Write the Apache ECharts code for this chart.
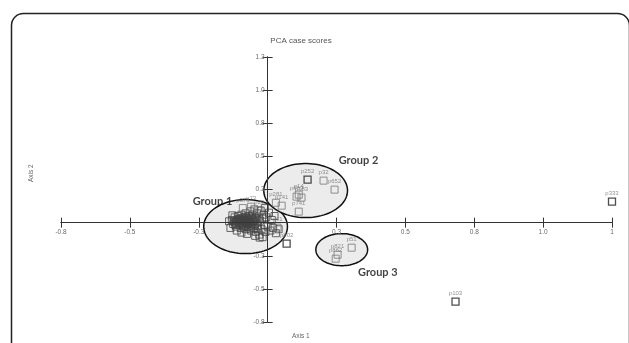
<!DOCTYPE html>
<html>
<head>
<meta charset="utf-8">
<script src="https://cdn.jsdelivr.net/npm/echarts@6/dist/echarts.min.js"></script>
<style>
  html, body { margin: 0; padding: 0; background: #fff; }
  #chart { width: 629px; height: 343px; }
</style>
</head>
<body>
<div id="chart"></div>
<script>
// tick labels as printed (zero is left blank where the axes cross)
const xTickLabels = ['-0.8', '-0.5', '-0.3', '', '0.3', '0.5', '0.8', '1.0', '1'];
const yTickLabels = ['-0.8', '-0.5', '-0.3', '', '0.3', '0.5', '0.8', '1.0', '1.3'];

// labelled cases
const caseNames = ['p252', 'p32', 'p652', 'p663', 'p183', 'p14', 'p741', 'p141', 'p281',
  'p51', 'p821', 'p862', 'p333', 'p103', 'p802', 'p61', 'p371', 'p73', 'p29'];
const axis1Scores = [0.145, 0.203, 0.243, 0.105, 0.123, 0.113, 0.113, 0.051, 0.03,
  0.305, 0.254, 0.247, 1.25, 0.682, 0.069, 0.036, -0.09, -0.06, -0.03];
const axis2Scores = [0.325, 0.317, 0.249, 0.196, 0.189, 0.211, 0.083, 0.128, 0.15,
  -0.189, -0.242, -0.272, 0.158, -0.596, -0.158, -0.038, 0.11, 0.12, 0.095];
const darkCases = ['p252', 'p333', 'p103', 'p802'];

// unlabelled cases in the Group 1 cloud
const clusterScores = [
  [-0.13, 0.02], [-0.125, -0.01], [-0.12, 0.04], [-0.118, 0.0], [-0.115, -0.03],
  [-0.11, 0.02], [-0.108, 0.05], [-0.105, -0.015], [-0.1, 0.03], [-0.1, 0.0],
  [-0.098, -0.04], [-0.095, 0.06], [-0.093, 0.015], [-0.09, -0.02], [-0.088, 0.04],
  [-0.085, 0.0], [-0.083, 0.025], [-0.08, -0.05], [-0.08, 0.07], [-0.078, -0.01],
  [-0.075, 0.035], [-0.072, 0.01], [-0.07, -0.03], [-0.068, 0.05], [-0.065, 0.0],
  [-0.063, 0.085], [-0.06, -0.06], [-0.06, 0.025], [-0.057, -0.015], [-0.055, 0.06],
  [-0.052, 0.01], [-0.05, -0.04], [-0.048, 0.1], [-0.045, 0.035], [-0.043, -0.07],
  [-0.04, 0.0], [-0.038, 0.07], [-0.035, -0.025], [-0.033, 0.045], [-0.03, -0.09],
  [-0.028, 0.015], [-0.025, 0.09], [-0.022, -0.05], [-0.02, 0.03], [-0.018, -0.11],
  [-0.015, 0.06], [-0.012, -0.02], [-0.01, 0.11], [-0.008, -0.07], [-0.005, 0.04],
  [0.0, -0.03], [0.005, 0.075], [0.01, -0.06], [0.015, 0.02], [0.02, -0.04],
  [0.025, 0.05], [-0.135, -0.04], [-0.14, 0.01], [-0.128, 0.055], [-0.112, -0.06],
  [-0.095, -0.075], [-0.075, -0.085], [-0.045, -0.1], [0.03, -0.08], [0.04, -0.05],
  [-0.029, -0.113],
  [-0.122, 0.012], [-0.117, -0.018], [-0.113, 0.008], [-0.107, 0.028], [-0.103, -0.005],
  [-0.097, 0.018], [-0.092, -0.008], [-0.087, 0.022], [-0.082, -0.025], [-0.077, 0.012],
  [-0.073, -0.012], [-0.069, 0.022], [-0.066, -0.045], [-0.062, 0.005], [-0.058, 0.04],
  [-0.054, -0.028], [-0.049, 0.018], [-0.046, -0.012], [-0.041, 0.028], [-0.037, -0.045],
  [-0.104, 0.012], [-0.091, 0.032], [-0.086, -0.035], [-0.079, 0.045], [-0.071, -0.005]
];

// group ellipses: centre x, centre y, radius x, radius y (axis units)
const groupNames = ['Group 1', 'Group 2', 'Group 3'];
const groupEllipses = [
  [-0.08, -0.03, 0.152, 0.204],
  [0.138, 0.242, 0.152, 0.204],
  [0.269, -0.204, 0.094, 0.121]
];
const groupLabelPos = [[-0.2, 0.158], [0.33, 0.468], [0.40, -0.377]];

const chart = echarts.init(document.getElementById('chart'));

const tickFmt = (labels) => (v) => {
  const i = Math.round((v + 0.75) / 0.25);
  return labels[i] !== undefined ? labels[i] : '';
};

// axes sit where zero is: 0.75 of 2.0 units in from the left / bottom edge
const gridW = 551, gridH = 265;
const yOffset = -gridW * 0.75 / 2;
const xOffset = -gridH * 0.75 / 2;

const baseAxis = {
  type: 'value', min: -0.75, max: 1.25, interval: 0.25,
  splitLine: { show: false },
  z: 5
};
const axisLine = { show: true, onZero: false, lineStyle: { color: '#333', width: 1 } };
const labelStyle = { fontSize: 6.5, color: '#6a6a6a', fontFamily: 'Liberation Sans' };

const option = {
  animation: false,
  title: {
    text: 'PCA case scores',
    left: 296, top: 32, textAlign: 'center',
    textStyle: { fontSize: 8, fontWeight: 'normal', color: '#555', fontFamily: 'Liberation Sans' }
  },
  grid: { left: 61, right: 17, top: 57, bottom: 21 },
  xAxis: [
    Object.assign({}, baseAxis, {
      position: 'bottom', offset: xOffset, axisLine,
      axisTick: { show: true, length: 5, lineStyle: { color: '#333' } },
      axisLabel: Object.assign({ margin: 6, formatter: tickFmt(xTickLabels) }, labelStyle)
    }),
    Object.assign({}, baseAxis, {
      position: 'bottom', offset: xOffset, axisLine,
      axisTick: { show: true, inside: true, length: 5, lineStyle: { color: '#333' } },
      axisLabel: { show: false }
    })
  ],
  yAxis: [
    Object.assign({}, baseAxis, {
      position: 'left', offset: yOffset, axisLine,
      axisTick: { show: true, length: 5, lineStyle: { color: '#333' } },
      axisLabel: Object.assign({ margin: 3, formatter: tickFmt(yTickLabels) }, labelStyle)
    }),
    Object.assign({}, baseAxis, {
      position: 'left', offset: yOffset, axisLine,
      axisTick: { show: true, inside: true, length: 5, lineStyle: { color: '#333' } },
      axisLabel: { show: false }
    })
  ],
  series: [
    {
      type: 'custom',
      z: 1,
      data: groupEllipses,
      renderItem: (params, api) => {
        const c = api.coord([api.value(0), api.value(1)]);
        const s = api.size([api.value(2), api.value(3)]);
        const pts = [];
        for (let k = 0; k < 90; k++) {
          const a = (k / 90) * Math.PI * 2;
          pts.push([c[0] + s[0] * Math.cos(a), c[1] + s[1] * Math.sin(a)]);
        }
        return {
          type: 'polygon',
          shape: { points: pts },
          style: { fill: '#ececec', stroke: '#111', lineWidth: 1.5 }
        };
      }
    },
    {
      type: 'scatter',
      z: 3,
      symbol: 'rect',
      symbolSize: 7,
      data: clusterScores,
      itemStyle: { color: 'rgba(0,0,0,0)', borderColor: '#444', borderWidth: 1 }
    },
    {
      type: 'scatter',
      z: 4,
      symbol: 'rect',
      symbolSize: 7,
      data: caseNames.map((n, i) => ({
        name: n,
        value: [axis1Scores[i], axis2Scores[i]],
        itemStyle: darkCases.includes(n) ? { borderColor: '#222', borderWidth: 1.3 } : {}
      })),
      itemStyle: { color: 'rgba(0,0,0,0)', borderColor: '#777', borderWidth: 1 },
      label: {
        show: true, position: 'top', distance: 1, formatter: '{b}',
        fontSize: 6, color: '#777', fontFamily: 'Liberation Sans'
      }
    },
    {
      type: 'scatter',
      z: 6,
      symbolSize: 0,
      data: groupNames.map((n, i) => ({ name: n, value: groupLabelPos[i] })),
      label: {
        show: true, position: 'inside', formatter: '{b}',
        fontSize: 11, fontWeight: 'bold', color: '#111', fontFamily: 'Lato'
      }
    }
  ],
  graphic: [
    {
      type: 'rect', left: 9, top: 11, z: 0,
      shape: { width: 618, height: 400, r: 12 },
      style: { fill: 'none', stroke: '#222', lineWidth: 1.5 }
    },
    {
      type: 'text', left: 292, top: 333,
      style: { text: 'Axis 1', fontSize: 6.5, fill: '#666', fontFamily: 'Liberation Sans' }
    },
    {
      type: 'text', x: 28, y: 182, rotation: Math.PI / 2,
      style: { text: 'Axis 2', fontSize: 6.5, fill: '#666', fontFamily: 'Liberation Sans' }
    }
  ]
};

chart.setOption(option);
</script>
</body>
</html>
